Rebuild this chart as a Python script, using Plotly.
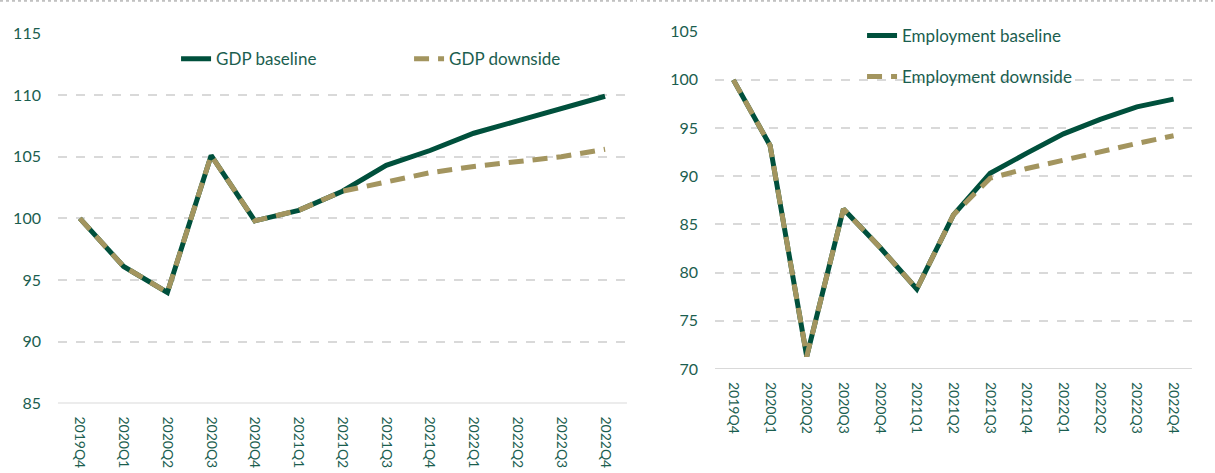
import plotly.graph_objects as go

quarters = ["2019Q4", "2020Q1", "2020Q2", "2020Q3", "2020Q4", "2021Q1", "2021Q2",
            "2021Q3", "2021Q4", "2022Q1", "2022Q2", "2022Q3", "2022Q4"]
gdp_baseline = [100.0, 96.1, 94.0, 105.1, 99.8, 100.65, 102.2, 104.3, 105.5, 106.9, 107.9, 108.9, 109.9]
gdp_downside = [100.0, 96.1, 94.0, 105.1, 99.8, 100.65, 102.2, 103.0, 103.7, 104.2, 104.6, 105.0, 105.6]
emp_baseline = [100.0, 93.2, 71.3, 86.6, 82.6, 78.3, 86.0, 90.3, 92.4, 94.4, 95.9, 97.2, 98.0]
emp_downside = [100.0, 93.2, 71.3, 86.6, 82.6, 78.3, 86.0, 89.8, 90.8, 91.7, 92.6, 93.4, 94.2]

GREEN = "#00503C"
TAN = "#A3955F"
TEXT = "#1B5E4F"
GRID = "#D9D9D9"
FONT = "Lato"

fig = go.Figure()
fig.add_trace(go.Scatter(x=quarters, y=gdp_baseline, name="GDP baseline", mode="lines",
                         line=dict(color=GREEN, width=5), xaxis="x", yaxis="y", legend="legend"))
fig.add_trace(go.Scatter(x=quarters, y=gdp_downside, name="GDP downside", mode="lines",
                         line=dict(color=TAN, width=5, dash="15px,9px"), xaxis="x", yaxis="y", legend="legend"))
fig.add_trace(go.Scatter(x=quarters, y=emp_baseline, name="Employment baseline", mode="lines",
                         line=dict(color=GREEN, width=5), xaxis="x2", yaxis="y2", legend="legend2",
                         legendgroup="eb"))
fig.add_trace(go.Scatter(x=quarters, y=emp_downside, name="Employment downside", mode="lines",
                         line=dict(color=TAN, width=5, dash="15px,9px"), xaxis="x2", yaxis="y2", legend="legend2",
                         legendgroup="ed"))

xcommon = dict(type="category", tickangle=90, showgrid=False, zeroline=False,
               showline=False, ticks="", tickfont=dict(family=FONT, size=14, color=TEXT),
               ticklabelstandoff=12, range=[-0.5, 12.5], automargin=False)
ycommon = dict(showgrid=True, gridcolor=GRID, gridwidth=2, griddash="dash", zeroline=False,
               showline=False, ticks="", tickfont=dict(family=FONT, size=16, color=TEXT),
               ticklabelstandoff=16, dtick=5, automargin=False)

fig.update_layout(
    width=1215, height=473, autosize=False,
    margin=dict(l=0, r=0, t=0, b=0, pad=0, autoexpand=False),
    paper_bgcolor="white", plot_bgcolor="white",
    font=dict(family=FONT, color=TEXT, size=16),
    xaxis=dict(domain=[0.0477, 0.516], anchor="y", **xcommon),
    yaxis=dict(domain=[0.1471, 0.9296], anchor="x", range=[85, 115], **ycommon),
    xaxis2=dict(domain=[0.5885, 0.981], anchor="y2", **xcommon),
    yaxis2=dict(domain=[0.2199, 0.933], anchor="x2", range=[70, 105], **ycommon),
    legend=dict(orientation="h", x=0.1449, y=0.875, xanchor="left", yanchor="middle",
                entrywidth=188, entrywidthmode="pixels", bgcolor="rgba(0,0,0,0)",
                font=dict(family=FONT, size=17, color=TEXT)),
    legend2=dict(orientation="v", x=0.7095, y=0.962, xanchor="left", yanchor="top",
                 tracegroupgap=16, bgcolor="rgba(0,0,0,0)",
                 font=dict(family=FONT, size=17, color=TEXT)),
    showlegend=True,
)

# solid baseline axis lines at bottom
fig.add_shape(type="line", xref="x domain", yref="y", x0=0, x1=1, y0=85, y1=85,
              line=dict(color=GRID, width=2))
fig.add_shape(type="line", xref="x2 domain", yref="y2", x0=0, x1=1, y0=70, y1=70,
              line=dict(color=GRID, width=2))

# dotted frame tops
fig.add_shape(type="line", xref="paper", yref="paper", x0=0, x1=637/1215, y0=0.998, y1=0.998,
              line=dict(color="#909090", width=1, dash="dot"))
fig.add_shape(type="line", xref="paper", yref="paper", x0=641/1215, x1=1213/1215, y0=0.998, y1=0.998,
              line=dict(color="#909090", width=1, dash="dot"))

fig.write_html("out.html")
